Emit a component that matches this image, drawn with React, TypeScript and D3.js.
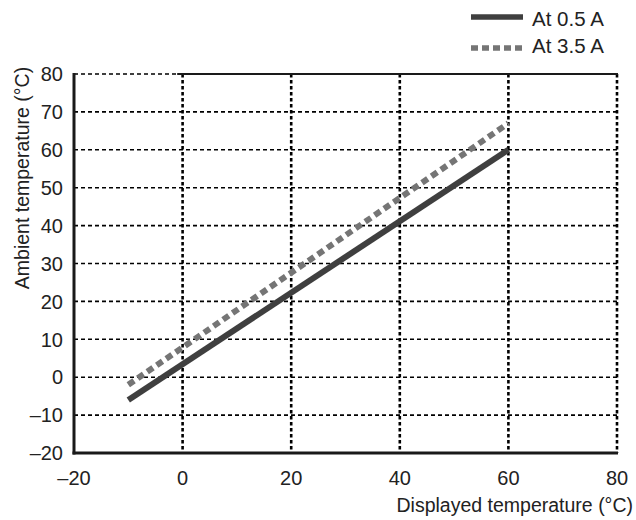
import React from "react";
import * as d3 from "d3";

const xTicks = [-20, 0, 20, 40, 60, 80];
const yTicks = [-20, -10, 0, 10, 20, 30, 40, 50, 60, 70, 80];
const seriesNames = ["At 0.5 A", "At 3.5 A"];
const lowCurrent: [number, number][] = [[-10, -6], [60, 60]];
const highCurrent: [number, number][] = [[-10, -2], [60, 67]];

const W = 636, H = 520;
const L = 74, R = 617, T = 74, B = 453;
const FONT = "'Liberation Sans', Arial, Helvetica, sans-serif";

export default function App() {
  const x = d3.scaleLinear().domain([-20, 80]).range([L, R]);
  const y = d3.scaleLinear().domain([-20, 80]).range([B, T]);
  const line = d3.line<[number, number]>().x(d => x(d[0])).y(d => y(d[1]));
  const fmt = (v: number) => (v < 0 ? "\u2013" + Math.abs(v) : String(v));

  return (
    <svg width={W} height={H} style={{ position: "absolute", left: 0, top: 0, background: "#fff" }}
      fontFamily={FONT}>
      {/* horizontal gridlines */}
      {yTicks.filter(v => v > -20).map(v => (
        <line key={"h" + v} x1={L} x2={R} y1={y(v)} y2={y(v)} stroke="#000" strokeWidth={1.6}
          strokeDasharray="4,3" />
      ))}
      {/* vertical gridlines */}
      {xTicks.filter(v => v > -20).map(v => (
        <line key={"v" + v} x1={x(v)} x2={x(v)} y1={T} y2={B} stroke="#000" strokeWidth={2.6}
          strokeDasharray="3.5,2.5" />
      ))}
      {/* top solid border (partial) */}
      <line x1={x(-1)} x2={R + 1} y1={T} y2={T} stroke="#1a1a1a" strokeWidth={2.2} />
      {/* axes */}
      <line x1={L} x2={L} y1={T - 1} y2={B + 1.5} stroke="#1a1a1a" strokeWidth={3} />
      <line x1={L - 1.5} x2={R + 1} y1={B} y2={B} stroke="#1a1a1a" strokeWidth={3} />
      {/* series */}
      <path d={line(highCurrent) || ""} fill="none" stroke="#757575" strokeWidth={6} strokeDasharray="7,4.5" />
      <path d={line(lowCurrent) || ""} fill="none" stroke="#3f3f3f" strokeWidth={6} />
      {/* y tick labels */}
      {yTicks.map(v => (
        <text key={"yt" + v} x={63} y={y(v)} dy="0.36em" textAnchor="end" fontSize={20} fill="#222">{fmt(v)}</text>
      ))}
      {/* x tick labels */}
      {xTicks.map(v => (
        <text key={"xt" + v} x={x(v)} y={485} textAnchor="middle" fontSize={20} fill="#222">{fmt(v)}</text>
      ))}
      {/* axis titles */}
      <text x={633} y={512} textAnchor="end" fontSize={19.5} fill="#222">Displayed temperature (°C)</text>
      <text transform={`translate(29,178) rotate(-90)`} textAnchor="middle" fontSize={19.5} fill="#222">Ambient temperature (°C)</text>
      {/* legend */}
      <line x1={471} x2={523} y1={17} y2={17} stroke="#3f3f3f" strokeWidth={5.5} />
      <text x={532} y={26} fontSize={20.5} fill="#222">{seriesNames[0]}</text>
      <line x1={471} x2={523} y1={48} y2={48} stroke="#757575" strokeWidth={5.5} strokeDasharray="7,4" />
      <text x={532} y={53} fontSize={20.5} fill="#222">{seriesNames[1]}</text>
    </svg>
  );
}
